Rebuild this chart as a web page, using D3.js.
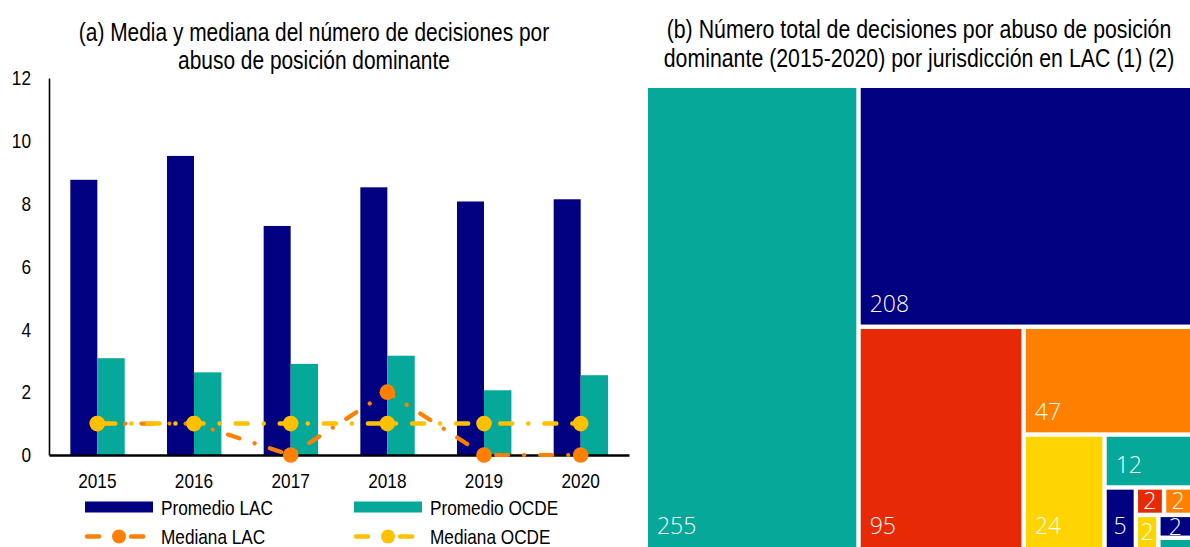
<!DOCTYPE html>
<html><head><meta charset="utf-8">
<script src="https://cdn.jsdelivr.net/npm/d3@7"></script>
<style>html,body{margin:0;padding:0;background:#fff;overflow:hidden}</style>
</head><body><svg id="c" width="1190" height="547"></svg>
<script>
// ---------- data ----------
const years = ["2015", "2016", "2017", "2018", "2019", "2020"];
const promedioLAC = [8.76, 9.52, 7.29, 8.52, 8.07, 8.14];
const promedioOCDE = [3.08, 2.63, 2.90, 3.16, 2.06, 2.54];
const medianaLAC = [1, 1, 0, 2, 0, 0];
const medianaOCDE = [1, 1, 1, 1, 1, 1];
const yTicks = [0, 2, 4, 6, 8, 10, 12];
const seriesNames = ["Promedio LAC", "Promedio OCDE", "Mediana LAC", "Mediana OCDE"];
const titleA = ["(a) Media y mediana del número de decisiones por", "abuso de posición dominante"];
const titleB = ["(b) Número total de decisiones por abuso de posición", "dominante (2015-2020) por jurisdicción en LAC (1) (2)"];

const tmNames = ["Jurisdicción 1", "Jurisdicción 2", "Jurisdicción 3", "Jurisdicción 4", "Jurisdicción 5", "Jurisdicción 6",
                 "Jurisdicción 7", "Jurisdicción 8", "Jurisdicción 9", "Jurisdicción 10", "Jurisdicción 11", "Jurisdicción 12"];
const tmValues = [255, 208, 95, 47, 24, 12, 5, 2, 2, 2, 2, 1];
const tmColors = ["#05A899", "#000080", "#E62A05", "#FF8000", "#FFD400", "#05A899",
                  "#000080", "#E62A05", "#FF8000", "#FFD400", "#000080", "#05A899"];

// ---------- styles ----------
const NAVY = "#000080", TEAL = "#05A899", ORANGE = "#FF8000", YELLOW = "#FFC000";
const FONT = "'Liberation Sans',Arial,sans-serif";
const SQUEEZE = 0.82; // narrow type: horizontal compression of the glyphs
const svg = d3.select("#c");

// turn text x/y into a transform so that the glyphs are horizontally compressed
function narrow(sel) {
  sel.each(function () {
    const t = d3.select(this);
    const tx = +t.attr("x") || 0, ty = +t.attr("y") || 0;
    t.attr("x", 0).attr("y", 0).attr("transform", `translate(${tx},${ty}) scale(${SQUEEZE},1)`);
  });
}

// ---------- left chart ----------
const x = d3.scaleBand().domain(years).range([49, 629]).padding(0);
const y = d3.scaleLinear().domain([0, 12]).range([455, 78]);
const cx = d => x(d) + x.bandwidth() / 2;

svg.append("g").selectAll("text").data(titleA).join("text")
  .attr("x", 314).attr("y", (d, i) => 41 + i * 28)
  .attr("text-anchor", "middle").style("font-family", FONT).style("font-size", "25.5px").attr("fill", "#000")
  .text(d => d).call(narrow);

const gA = svg.append("g");
gA.selectAll("rect.lac").data(years).join("rect").attr("class", "lac")
  .attr("x", d => cx(d) - 27).attr("width", 27)
  .attr("y", (d, i) => y(promedioLAC[i])).attr("height", (d, i) => y(0) - y(promedioLAC[i]))
  .attr("fill", NAVY);
gA.selectAll("rect.ocde").data(years).join("rect").attr("class", "ocde")
  .attr("x", d => cx(d)).attr("width", 27.4)
  .attr("y", (d, i) => y(promedioOCDE[i])).attr("height", (d, i) => y(0) - y(promedioOCDE[i]))
  .attr("fill", TEAL);

const yAxis = gA.append("g").attr("transform", "translate(49,0)")
  .call(d3.axisLeft(y).tickValues(yTicks).tickSize(0).tickSizeOuter(0).tickPadding(18).tickFormat(d3.format("d")));
yAxis.select(".domain").attr("stroke", "#000").attr("stroke-width", 1.6);
yAxis.selectAll("text").style("font-family", FONT).style("font-size", "21px").attr("fill", "#000").call(narrow);

const xAxis = gA.append("g").attr("transform", "translate(0,455)")
  .call(d3.axisBottom(x).tickSize(0).tickSizeOuter(0).tickPadding(18));
xAxis.select(".domain").attr("stroke", "#000").attr("stroke-width", 2.6);
xAxis.selectAll("text").style("font-family", FONT).style("font-size", "21px").attr("fill", "#000").call(narrow);

const line = d3.line().x((d, i) => cx(years[i])).y(d => y(d));
const DASH = "12,16,0.1,16";
gA.append("path").datum(medianaLAC).attr("d", line).attr("fill", "none")
  .attr("stroke", ORANGE).attr("stroke-width", 4.2).attr("stroke-linecap", "round").attr("stroke-dasharray", DASH);
gA.selectAll("circle.mlac").data(medianaLAC).join("circle").attr("class", "mlac")
  .attr("cx", (d, i) => cx(years[i])).attr("cy", d => y(d)).attr("r", 7.8).attr("fill", ORANGE);
gA.append("path").datum(medianaOCDE).attr("d", line).attr("fill", "none")
  .attr("stroke", YELLOW).attr("stroke-width", 4.5).attr("stroke-linecap", "round").attr("stroke-dasharray", DASH)
  .attr("stroke-dashoffset", -6);
gA.selectAll("circle.mocde").data(medianaOCDE).join("circle").attr("class", "mocde")
  .attr("cx", (d, i) => cx(years[i])).attr("cy", d => y(d)).attr("r", 7.8).attr("fill", YELLOW);

// legend
const legend = svg.append("g");
const legendItems = [
  {name: seriesNames[0], type: "bar", color: NAVY, lx: 85, ly: 507},
  {name: seriesNames[1], type: "bar", color: TEAL, lx: 354, ly: 507},
  {name: seriesNames[2], type: "line", color: ORANGE, lx: 85, ly: 536.5},
  {name: seriesNames[3], type: "line", color: YELLOW, lx: 354, ly: 536.5}
];
legendItems.forEach(it => {
  const g = legend.append("g");
  if (it.type === "bar") {
    g.append("rect").attr("x", it.lx).attr("y", it.ly - 5.5).attr("width", 68).attr("height", 11).attr("fill", it.color);
  } else {
    g.append("line").attr("x1", it.lx + 2).attr("x2", it.lx + 66).attr("y1", it.ly).attr("y2", it.ly)
      .attr("stroke", it.color).attr("stroke-width", 4.5).attr("stroke-linecap", "round").attr("stroke-dasharray", DASH);
    g.append("circle").attr("cx", it.lx + 34).attr("cy", it.ly).attr("r", 7).attr("fill", it.color);
  }
  g.append("text").attr("x", it.lx + 76).attr("y", it.ly + 7.5)
    .style("font-family", FONT).style("font-size", "21px").attr("fill", "#000").text(it.name).call(narrow);
});

// ---------- right chart: treemap ----------
svg.append("g").selectAll("text").data(titleB).join("text")
  .attr("x", 919).attr("y", (d, i) => 38 + i * 29)
  .attr("text-anchor", "middle").style("font-family", FONT).style("font-size", "26px").attr("fill", "#000")
  .text(d => d).call(narrow);

// strip layout: each strip runs along the shorter side; a strip grows only while it is too elongated
function stripTile(parent, x0, y0, x1, y1) {
  const nodes = parent.children, n = nodes.length;
  let value = parent.value, i0 = 0;
  while (i0 < n) {
    const dx = x1 - x0, dy = y1 - y0;
    const column = dx >= dy;
    const L = column ? dy : dx, Lo = column ? dx : dy;
    const worst = (i, j) => {
      let s = 0; for (let k = i; k < j; k++) s += nodes[k].value;
      const t = Lo * s / value; let w = 0;
      for (let k = i; k < j; k++) { const l = L * nodes[k].value / s; w = Math.max(w, t / l, l / t); }
      return w;
    };
    let i1 = i0 + 1, cur = worst(i0, i1);
    while (i1 < n && cur > 2.5) {
      const nx = worst(i0, i1 + 1);
      if (nx >= cur) break;
      cur = nx; i1++;
    }
    const kids = nodes.slice(i0, i1);
    const sum = d3.sum(kids, d => d.value);
    const row = {value: sum, children: kids};
    if (column) { const xe = i1 >= n ? x1 : x0 + dx * sum / value; d3.treemapSlice(row, x0, y0, xe, y1); x0 = xe; }
    else { const ye = i1 >= n ? y1 : y0 + dy * sum / value; d3.treemapDice(row, x0, y0, x1, ye); y0 = ye; }
    value -= sum; i0 = i1;
  }
}

const tmData = {children: tmValues.map((v, i) => ({name: tmNames[i], value: v, color: tmColors[i]}))};
const root = d3.hierarchy(tmData).sum(d => d.value || 0);
d3.treemap().tile(stripTile).size([546.4, 463.4])(root);

const gB = svg.append("g").attr("transform", "translate(645.8,85.8)");
const inset = 2.2;
root.leaves().forEach(leaf => {
  const g = gB.append("g");
  const rx0 = leaf.x0 + inset, ry0 = leaf.y0 + inset, rw = leaf.x1 - leaf.x0 - 2 * inset, rh = leaf.y1 - leaf.y0 - 2 * inset;
  g.append("rect").attr("x", rx0).attr("y", ry0).attr("width", rw).attr("height", rh).attr("fill", leaf.data.color);
  if (rh < 12) return;
  const t = g.append("text").style("font-family", "'Open Sans','Noto Sans',sans-serif").style("font-size", "23px")
    .style("font-weight", 300).attr("fill", "#fff").text(leaf.value);
  const tw = t.node().getComputedTextLength();
  if (rw >= tw + 18) t.attr("x", rx0 + 9);
  else t.attr("x", rx0 + rw / 2).attr("text-anchor", "middle");
  if (rh >= 40) t.attr("y", ry0 + rh - 12.5);
  else t.attr("y", ry0 + rh / 2 + 8.2);
});
</script>
</body></html>
